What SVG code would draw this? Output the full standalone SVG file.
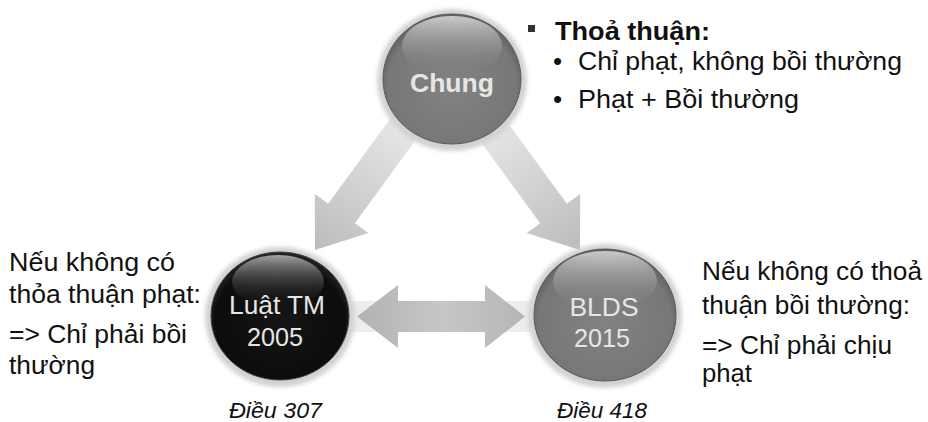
<svg xmlns="http://www.w3.org/2000/svg" width="928" height="422" viewBox="0 0 928 422">
<style>
.t{font-family:"Liberation Sans",Arial,sans-serif;fill:#111;font-size:26px;}
.lbl{font-family:"Liberation Sans",Arial,sans-serif;fill:#e6e6e6;text-anchor:middle;font-size:26px;}
.it{font-family:"Liberation Sans",Arial,sans-serif;font-style:italic;fill:#111;font-size:22px;}
.halo{fill:#d2d2d2;}
</style>
<defs>
<filter id="soft" x="-20%" y="-20%" width="140%" height="140%"><feGaussianBlur stdDeviation="2"/></filter>
<radialGradient id="gGray" cx="50%" cy="55%" r="55%"><stop offset="0" stop-color="#828282"/><stop offset="0.85" stop-color="#777"/><stop offset="1" stop-color="#5e5e5e"/></radialGradient>
<radialGradient id="gBlack" cx="50%" cy="55%" r="55%"><stop offset="0" stop-color="#151515"/><stop offset="0.85" stop-color="#0c0c0c"/><stop offset="1" stop-color="#262626"/></radialGradient>
<linearGradient id="hlGray" x1="0" y1="0" x2="0" y2="1"><stop offset="0" stop-color="#d0d0d0" stop-opacity="0.95"/><stop offset="1" stop-color="#7a7a7a" stop-opacity="0"/></linearGradient>
<linearGradient id="hlBlack" x1="0" y1="0" x2="0" y2="1"><stop offset="0" stop-color="#a8a8a8" stop-opacity="0.95"/><stop offset="1" stop-color="#111" stop-opacity="0"/></linearGradient>
<linearGradient id="aL" gradientUnits="userSpaceOnUse" x1="436" y1="84" x2="315" y2="250"><stop offset="0.3" stop-color="#e4e4e4"/><stop offset="1" stop-color="#bcbcbc"/></linearGradient>
<linearGradient id="aR" gradientUnits="userSpaceOnUse" x1="459" y1="84" x2="580" y2="250"><stop offset="0.3" stop-color="#e4e4e4"/><stop offset="1" stop-color="#bcbcbc"/></linearGradient>
<linearGradient id="aH" x1="0" y1="0" x2="1" y2="0"><stop offset="0" stop-color="#b2b2b2"/><stop offset="0.5" stop-color="#c6c6c6"/><stop offset="1" stop-color="#b6b6b6"/></linearGradient>
</defs>
<rect width="928" height="422" fill="#fff"/>
<g id="connectors">
<rect x="281" y="301" width="324" height="31" fill="#ededed"/>
<polygon points="422.6,74.2 328.2,203.8 314.8,194.1 315,250 368.3,233 354.9,223.3 449.3,93.7" fill="url(#aL)"/>
<polygon points="472.4,74.2 566.8,203.8 580.2,194.1 580,250 526.7,233 540.1,223.3 445.7,93.7" fill="url(#aR)"/>
<polygon points="357,316.5 398,285 398,301 485,301 485,285 525,316.5 485,348 485,332 398,332 398,348" fill="url(#aH)"/>
</g>
<g id="node-chung">
<ellipse cx="452" cy="80" rx="75" ry="71" class="halo" filter="url(#soft)"/>
<ellipse cx="452" cy="79" rx="69" ry="65" fill="url(#gGray)" stroke="#5a5a5a" stroke-width="1"/>
<ellipse cx="452" cy="46" rx="50" ry="30" fill="url(#hlGray)"/>
<text class="lbl" x="452" y="92" font-size="27" font-weight="bold" textLength="84" lengthAdjust="spacingAndGlyphs">Chung</text>
</g>
<g id="node-luat">
<ellipse cx="280" cy="317" rx="75" ry="70" class="halo" filter="url(#soft)"/>
<ellipse cx="280" cy="316" rx="69" ry="64" fill="url(#gBlack)" stroke="#444" stroke-width="1"/>
<ellipse cx="278" cy="282" rx="46" ry="27" fill="url(#hlBlack)"/>
<text class="lbl" x="277" y="314" textLength="96" lengthAdjust="spacingAndGlyphs">Luật TM</text>
<text class="lbl" x="275" y="346" textLength="56" lengthAdjust="spacingAndGlyphs">2005</text>
</g>
<g id="node-blds">
<ellipse cx="605" cy="316" rx="77" ry="72" class="halo" filter="url(#soft)"/>
<ellipse cx="605" cy="315" rx="71" ry="66" fill="url(#gGray)" stroke="#5a5a5a" stroke-width="1"/>
<ellipse cx="605" cy="281" rx="52" ry="30" fill="url(#hlGray)"/>
<text class="lbl" x="604" y="316" textLength="69" lengthAdjust="spacingAndGlyphs">BLDS</text>
<text class="lbl" x="602" y="347" textLength="56" lengthAdjust="spacingAndGlyphs">2015</text>
</g>
<g id="note-top">
<rect x="528" y="25" width="7" height="7" fill="#333"/>
<text class="t" x="555" y="40" font-size="26" font-weight="bold" fill="#333" textLength="155" lengthAdjust="spacingAndGlyphs">Thoả thuận:</text>
<text class="t" x="553" y="70">•</text>
<text class="t" x="578" y="70" textLength="324" lengthAdjust="spacingAndGlyphs">Chỉ phạt, không bồi thường</text>
<text class="t" x="553" y="108">•</text>
<text class="t" x="578" y="108" textLength="221" lengthAdjust="spacingAndGlyphs">Phạt + Bồi thường</text>
</g>
<g id="note-left">
<text class="t" x="9" y="271" textLength="166" lengthAdjust="spacingAndGlyphs">Nếu không có</text>
<text class="t" x="9" y="303" textLength="192" lengthAdjust="spacingAndGlyphs">thỏa thuận phạt:</text>
<text class="t" x="9" y="343" textLength="178" lengthAdjust="spacingAndGlyphs">=&gt; Chỉ phải bồi</text>
<text class="t" x="9" y="374" textLength="86" lengthAdjust="spacingAndGlyphs">thường</text>
</g>
<g id="note-right">
<text class="t" x="702" y="280" textLength="220" lengthAdjust="spacingAndGlyphs">Nếu không có thoả</text>
<text class="t" x="702" y="314" textLength="208" lengthAdjust="spacingAndGlyphs">thuận bồi thường:</text>
<text class="t" x="702" y="354" textLength="190" lengthAdjust="spacingAndGlyphs">=&gt; Chỉ phải chịu</text>
<text class="t" x="702" y="382" textLength="50" lengthAdjust="spacingAndGlyphs">phạt</text>
</g>
<g id="captions">
<text class="it" x="229" y="418" textLength="93" lengthAdjust="spacingAndGlyphs">Điều 307</text>
<text class="it" x="557" y="418" textLength="90" lengthAdjust="spacingAndGlyphs">Điều 418</text>
</g>
</svg>
